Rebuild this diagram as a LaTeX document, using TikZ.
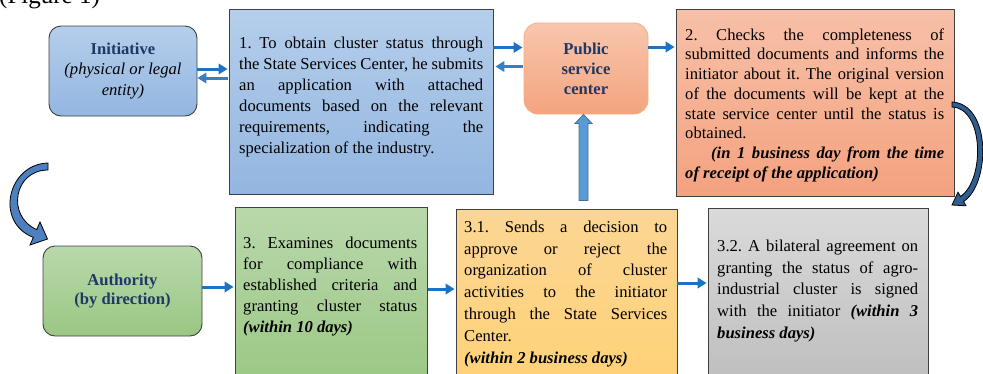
\documentclass[tikz,border=0pt]{standalone}
\usepackage{fontspec}
\setmainfont{Liberation Serif}
\usetikzlibrary{arrows.meta,calc}
\setlength{\parindent}{0pt}
\setlength{\parskip}{0pt}
\frenchspacing
\definecolor{navy}{HTML}{1F3864}
\definecolor{boxline}{HTML}{404040}
\definecolor{blueT}{HTML}{B5CEEB}
\definecolor{blueB}{HTML}{93B6E0}
\definecolor{orT}{HTML}{F8C6AE}
\definecolor{orB}{HTML}{F4A47E}
\definecolor{salT}{HTML}{F7C0A8}
\definecolor{salB}{HTML}{F4A27F}
\definecolor{orLine}{HTML}{F4B183}
\definecolor{grT}{HTML}{B9D8AC}
\definecolor{grB}{HTML}{9AC783}
\definecolor{yeT}{HTML}{FBD594}
\definecolor{yeB}{HTML}{FFD276}
\definecolor{gyT}{HTML}{DADADA}
\definecolor{gyB}{HTML}{BDBDBD}
\definecolor{conn}{HTML}{1F72C2}
\definecolor{connL}{HTML}{3B7DC2}
\definecolor{bigA}{HTML}{5B9BD5}
\definecolor{bigAline}{HTML}{41719C}
\definecolor{curveA}{HTML}{4D80BE}
\definecolor{curveB}{HTML}{2F5E8F}
\newcommand{\bodyfont}[1]{\fontsize{16.6}{#1}\selectfont\frenchspacing}
\newcommand{\tstrut}{\rule{0pt}{12pt}}
\newcommand{\bi}[1]{\textbf{\textit{#1}}}
\begin{document}
\begin{tikzpicture}[x=1pt,y=-1pt,
  plain/.style={draw=boxline, line width=0.9pt, inner sep=0pt},
  rbox/.style={plain, rounded corners=12pt, align=center, text=navy},
  btext/.style={anchor=north west, inner sep=0pt, align=justify, text width=#1},
  link/.style={draw=conn, line width=3pt, -{Triangle[length=9pt,width=10.5pt]}},
  linkL/.style={link, draw=connL},
  curved/.style={draw=black, line width=0.8pt}
]
\useasboundingbox (0,0) rectangle (983,373);
\clip (0,0) rectangle (983,373);

\node[anchor=base west, inner sep=0pt, font=\fontsize{25}{30}\selectfont] (fig) at (-1,3.5) {(Figure 1)};

% top row boxes
\node[rbox, top color=blueT, bottom color=blueB, minimum width=148pt, minimum height=90pt, font=\bodyfont{20.5}] (init) at (123,71)
  {\textbf{Initiative}\\ \textcolor{black}{\textit{(physical or legal}}\\ \textcolor{black}{\textit{entity)}}};
\node[plain, top color=blueT, bottom color=blueB, minimum width=264pt, minimum height=185pt] (b1) at (361,101.5) {};
\node[rbox, draw=orLine, rounded corners=14pt, top color=orT, bottom color=orB, minimum width=124pt, minimum height=91pt, font=\bodyfont{20}] (pub) at (586,68.5)
  {\textbf{Public}\\ \textbf{service}\\ \textbf{center}};
\node[plain, top color=salT, bottom color=salB, minimum width=278pt, minimum height=187pt] (b2) at (815,102.5) {};

% bottom row boxes
\node[rbox, top color=grT, bottom color=grB, minimum width=159pt, minimum height=90pt, font=\bodyfont{19.5}] (auth) at (122.5,291)
  {\textbf{Authority}\\ \textbf{(by direction)}};
\node[plain, top color=grT, bottom color=grB, minimum width=192pt, minimum height=183pt] (b3) at (331,298.5) {};
\node[plain, top color=yeT, bottom color=yeB, minimum width=221pt, minimum height=181pt] (b31) at (566.5,299.5) {};
\node[plain, top color=gyT, bottom color=gyB, minimum width=220pt, minimum height=182pt] (b32) at (818,299) {};

% texts
\node[btext=244pt, font=\bodyfont{21}] (t1) at (239,36)
 {\tstrut 1. To obtain cluster status through\linebreak the State Services Center, he submits\linebreak an application with attached\linebreak documents based on the relevant\linebreak requirements, indicating the\linebreak specialization of the industry.};
\node[btext=259pt, font=\bodyfont{19.7}] (t2) at (685,28)
 {\tstrut 2. Checks the completeness of\linebreak submitted documents and informs the\linebreak initiator about it. The original version\linebreak of the documents will be kept at the\linebreak state service center until the status is\linebreak obtained.\par
  \hspace*{26pt}\bi{(in 1 business day from the time\linebreak of receipt of the application)}};
\node[btext=174pt, font=\bodyfont{21}] (t3) at (243,236.5)
 {\tstrut 3. Examines documents\linebreak for compliance with\linebreak established criteria and\linebreak granting cluster status\linebreak \bi{(within 10 days)}};
\node[btext=203pt, font=\bodyfont{21.8}] (t31) at (464,220)
 {\tstrut 3.1. Sends a decision to\linebreak approve or reject the\linebreak organization of cluster\linebreak activities to the initiator\linebreak through the State Services\linebreak Center.\par \bi{(within 2 business days)}};
\node[btext=201pt, font=\bodyfont{21.8}] (t32) at (717,239)
 {\tstrut 3.2. A bilateral agreement on\linebreak granting the status of agro-\linebreak industrial cluster is signed\linebreak with the initiator \bi{(within 3\linebreak business days)}};

% small connectors
\draw[link] ($(init.east)+(0,-2)$) -- ($(b1.west |- init.east)+(-1,-2)$);
\draw[linkL] ($(b1.west |- init.east)+(-1,7)$) -- ($(init.east)+(0,7)$);
\draw[link] ($(b1.east |- pub.west)+(0,-21)$) -- ($(pub.west)+(-1,-21)$);
\draw[linkL] ($(pub.west)+(-1,-2)$) -- ($(b1.east |- pub.west)+(2,-2)$);
\draw[link] ($(pub.east)+(0,-21.5)$) -- ($(b2.west |- pub.east)+(-1,-21.5)$);
\draw[link] ($(auth.east)+(0,-4)$) -- ($(b3.west |- auth.east)+(-1,-4)$);
\draw[link] ($(b3.east)+(1,-9.5)$) -- ($(b31.west |- b3.east)+(-1,-9.5)$);
\draw[link] ($(b31.east)+(0,-16.5)$) -- ($(b32.west |- b31.east)+(-1,-16.5)$);

% vertical block arrow from 3.1 to public service center
\coordinate (vt) at ($(pub.south)+(-2.5,0)$);
\coordinate (vb) at ($(b31.north)+(17,-8)$);
\filldraw[fill=bigA, draw=bigAline, line width=0.8pt]
  ($(vb)+(-4.5,0)$) -- ($(vt)+(-4.5,9)$) -- ($(vt)+(-8.5,9)$) -- (vt)
  -- ($(vt)+(8.5,9)$) -- ($(vt)+(4.5,9)$) -- ($(vb)+(4.5,0)$) -- cycle;

% curved block arrows
\filldraw[curved, fill=curveA] (48,163) .. controls (8,164) and (-6,222) .. (33.3,237.4)
  -- (30,245) -- (47.5,239) -- (40,222) -- (36.7,229.6)
  .. controls (6,216) and (14,170) .. (48,170) -- cycle;
\filldraw[curved, fill=curveB] (952,102) .. controls (992,104) and (990,185) .. (963.5,201.5)
  -- (966,205.8) -- (952,205) -- (958,192.2) -- (960.5,196.5)
  .. controls (985,180) and (984,108) .. (952,107) -- cycle;
\end{tikzpicture}
\end{document}
